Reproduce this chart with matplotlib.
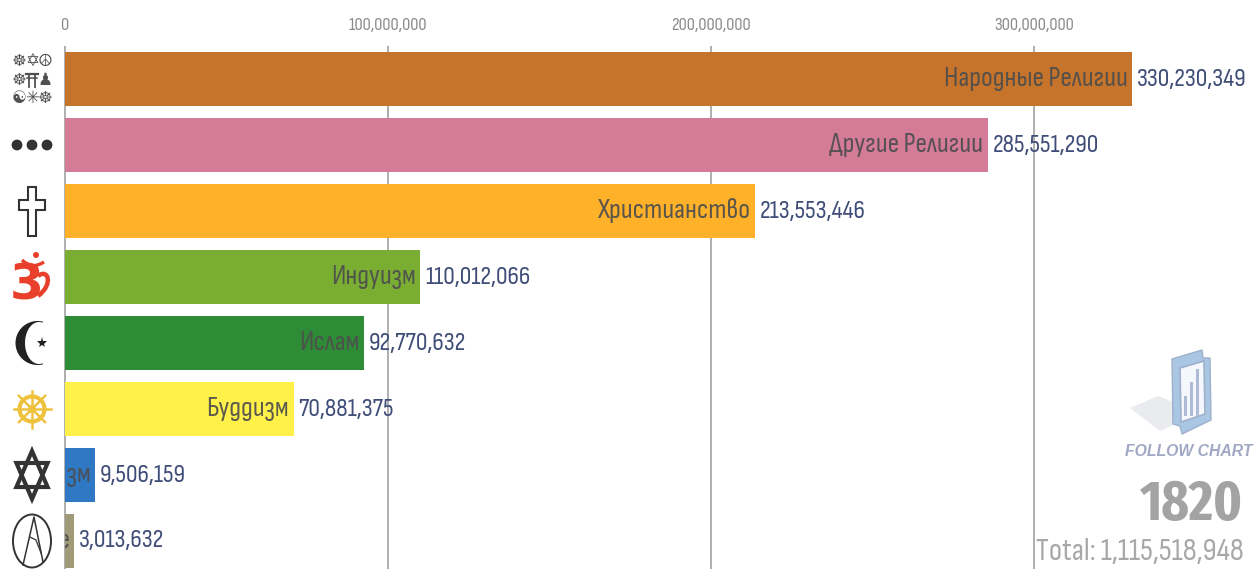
import numpy as np
import matplotlib
matplotlib.use("Agg")
import matplotlib.pyplot as plt
from matplotlib.patches import Circle, Ellipse, Polygon, Rectangle, PathPatch
from matplotlib.path import Path

names = ["Народные Религии", "Другие Религии", "Христианство", "Индуизм",
         "Ислам", "Буддизм", "Иудаизм", "Неверующие"]
values = [330230349, 285551290, 213553446, 110012066,
          92770632, 70881375, 9506159, 3013632]
colors = ["#c6742b", "#d37b97", "#ffb12a", "#7aae33",
          "#2f8c36", "#fff04a", "#2e78c4", "#a09a78"]
xticks = [0, 100000000, 200000000, 300000000]
year = "1820"
total = "Total: 1,115,518,948"

W, H = 1254, 569
x0_px, per_unit = 64.5, 3.233e-6
first_px, pitch = 79.0, 66.0
narrow = ["Sofia Sans Condensed", "IBM Plex Sans Condensed", "DejaVu Sans"]
heavy = ["Fira Sans Extra Condensed", "IBM Plex Sans Condensed", "DejaVu Sans"]

fig = plt.figure(figsize=(W / 100, H / 100), dpi=100, facecolor="white")
ax = fig.add_axes([0, 0, 1, 1])
ax.set_xlim(-x0_px / per_unit, (W - x0_px) / per_unit)
ax.set_ylim((H - first_px) / pitch, -first_px / pitch)
ax.axis("off")

top_y = (46 - first_px) / pitch
for t in xticks:
    ax.plot([t, t], [top_y, (H - first_px) / pitch], color="#9a9a9a", lw=1.1, zorder=1,
            solid_capstyle="butt")
    ax.text(t, (26 - first_px) / pitch, f"{t:,}", ha="center", va="center",
            family=narrow, fontsize=13.3, color="#8a8a8a", zorder=5)

ypos = np.arange(len(values))
bars = ax.barh(ypos, values, height=54 / pitch, color=colors, zorder=2)
for y, v, name, bar in zip(ypos, values, names, bars):
    txt = ax.annotate(name, (v, y), xytext=(-3.2, 0), textcoords="offset points",
                      ha="right", va="center", family=narrow, fontsize=20.4,
                      color="#4d4d4d", alpha=0.92, zorder=4)
    txt.set_clip_path(bar)
    ax.annotate(f"{v:,}", (v, y), xytext=(3.3, 0), textcoords="offset points",
                ha="left", va="center", family=narrow, fontsize=18.8,
                color="#3f4d78", zorder=4)

ov = fig.add_axes([0, 0, 1, 1], facecolor="none")
ov.set_xlim(0, W)
ov.set_ylim(H, 0)
ov.axis("off")

glyphs = [["☸", "✡", "☮"], ["☸", "", "♟"], ["☯", "✳", "☸"]]
for r, row in enumerate(glyphs):
    for c, g in enumerate(row):
        if g:
            ov.text(19 + 13 * c, 61 + 18.5 * r, g, ha="center", va="center", fontsize=12,
                    family="DejaVu Sans", color="#505050")
ov.plot([26, 38], [74, 74], color="#505050", lw=1.6)
ov.plot([27, 37], [78, 78], color="#505050", lw=1.1)
ov.plot([29, 29], [74, 87], color="#505050", lw=1.3)
ov.plot([35, 35], [74, 87], color="#505050", lw=1.3)

for cx in (17, 32, 47):
    ov.add_patch(Circle((cx, 145), 5.4, fc="#333333", ec="none"))

ov.add_patch(Polygon([(28, 187), (35.5, 187), (35.5, 200), (45, 200), (45, 210), (35.5, 210),
                      (35.5, 236), (28, 236), (28, 210), (19, 210), (19, 200), (28, 200)],
                     closed=True, fc="white", ec="#333333", lw=1.5))

om = "#e8402a"
ov.text(27, 285, "3", ha="center", va="center", family="DejaVu Sans", weight="bold",
        fontsize=35, color=om)
ov.add_patch(PathPatch(Path([(38, 296), (54, 284), (48, 268), (38, 276)],
                            [Path.MOVETO, Path.CURVE4, Path.CURVE4, Path.CURVE4]),
                       fc="none", ec=om, lw=3.2))
ov.add_patch(PathPatch(Path([(22, 260), (32, 270), (44, 262)],
                            [Path.MOVETO, Path.CURVE3, Path.CURVE3]),
                       fc="none", ec=om, lw=2.4))
ov.add_patch(Circle((36, 255), 3, fc=om, ec="none"))

a = np.linspace(np.radians(75), np.radians(285), 60)
outer = np.c_[37.5 + 22 * np.cos(a), 343 + 22 * np.sin(a)]
b = np.linspace(np.radians(285), np.radians(75), 60)
inner = np.c_[39 + 14 * np.cos(b), 343 + 21 * np.sin(b)]
ov.add_patch(Polygon(np.r_[outer, inner], closed=True, fc="#222222", ec="none"))
ov.plot([42], [343], marker="*", ms=8, color="#222222", mew=0)

gold = "#efc23e"
cx, cy = 32, 409
ov.add_patch(Circle((cx, cy), 12.5, fc="none", ec=gold, lw=3))
ov.add_patch(Circle((cx, cy), 3, fc="none", ec=gold, lw=1.6))
for ang in np.radians(np.arange(0, 360, 45)):
    ov.plot([cx, cx + 18.5 * np.cos(ang)], [cy, cy + 18.5 * np.sin(ang)], color=gold, lw=1.8)

cx, cy = 32, 475
for off in (-90, 90):
    ang = np.radians(np.array([0, 120, 240]) + off)
    ov.add_patch(Polygon(np.c_[cx + 18 * np.cos(ang), cy + 24 * np.sin(ang)], closed=True,
                         fc="none", ec="#333333", lw=3))

ov.add_patch(Ellipse((32, 541), 38, 53, fc="none", ec="#333333", lw=1.4))
ov.plot([23, 34, 43], [565, 517, 562], color="#333333", lw=1.1)
ov.plot([30, 36, 41], [537, 540, 553], color="#333333", lw=0.9)

ov.add_patch(Polygon([(1130, 408), (1158, 396), (1173, 402), (1173, 425), (1160, 431)],
                     closed=True, fc="#e9ebee", ec="none"))
ov.add_patch(Polygon([(1172, 359), (1202, 350), (1203, 358), (1210, 358), (1211, 420),
                      (1182, 434), (1180, 426), (1173, 424)], closed=True,
                     fc="#a9c6e2", ec="#9fb0cc", lw=1))
ov.add_patch(Polygon([(1180, 368), (1204, 361), (1205, 414), (1181, 422)], closed=True,
                     fc="#f4f7fb", ec="#9fb0cc", lw=1.2))
for bx, btop in zip((1184, 1190, 1196), (396, 382, 369)):
    ov.add_patch(Rectangle((bx, btop), 3, 416 - btop, fc="#aebbd6", ec="none"))

ov.text(1189, 451, "FOLLOW CHART", ha="center", va="center", family="Liberation Sans",
        weight="bold", style="italic", fontsize=11.3, color="#a0a8c4")
ov.text(1191.5, 505, year, ha="center", va="center", family=heavy, weight="bold",
        fontsize=41, color="#a3a3a3")
ov.text(1244, 552, total, ha="right", va="center", family=narrow,
        fontsize=22.8, color="#a8a8a8")

fig.savefig("out.png", dpi=100)
